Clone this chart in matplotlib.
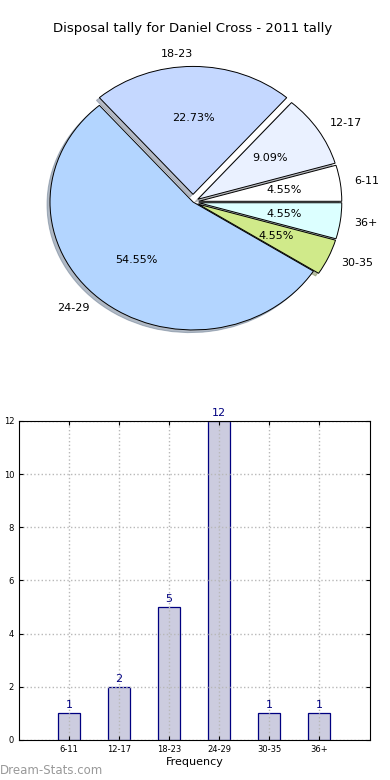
import matplotlib
matplotlib.use("Agg")
import matplotlib.pyplot as plt

groups = ['6-11', '12-17', '18-23', '24-29', '30-35', '36+']
tally = [1, 2, 5, 12, 1, 1]
pie_colors = ['#ffffff', '#eaf1ff', '#c5d8ff', '#b3d5ff', '#d0ea8a', '#dcffff']
explode = [0.04, 0.04, 0.06, 0, 0.04, 0.04]

fig = plt.figure(figsize=(3.9, 7.8), dpi=100)

# pie on top
ax1 = fig.add_axes([0.0365, 0.536, 0.917, 0.41])
wedges, texts, autotexts = ax1.pie(tally, labels=groups, colors=pie_colors, explode=explode,
                                   autopct='%1.2f%%', startangle=0,
                                   shadow={'ox': -0.015, 'oy': -0.015, 'shade': 0.45},
                                   wedgeprops={'edgecolor': 'black', 'linewidth': 0.7},
                                   textprops={'fontsize': 8})
ax1.set_aspect('auto')
ax1.set_xlim(-1.25, 1.25)
ax1.set_ylim(-1.25, 1.25)
ax1.set_title('Disposal tally for Daniel Cross - 2011 tally', fontsize=9.5, pad=7)

# bar chart below
ax2 = fig.add_axes([0.0487, 0.0513, 0.9, 0.409])
x = list(range(len(groups)))
ax2.bar(x, tally, width=0.45, color='#ccccdf', edgecolor='#000080', linewidth=0.9)
for xi, v in zip(x, tally):
    ax2.text(xi, v + 0.12, str(v), ha='center', va='bottom', fontsize=8, color='#000080')
ax2.set_xlim(-1, 6.02)
ax2.set_ylim(0, 12)
ax2.set_xticks(x)
ax2.set_xticklabels(groups)
ax2.set_yticks(range(0, 13, 2))
ax2.tick_params(labelsize=6, direction='in', length=3, top=True, right=True)
ax2.grid(True, linestyle=':', color='#b8b8b8', linewidth=1)
ax2.set_axisbelow(False)
for sp in ax2.spines.values():
    sp.set_zorder(5)
ax2.set_xlabel('Frequency', fontsize=8, labelpad=2)
ax2.set_ylabel('Disposal tally', fontsize=8)

fig.text(0.0, 0.012, 'Dream-Stats.com', fontsize=8.5, color='#999999', ha='left', va='center')

fig.savefig('out.png', dpi=100)
